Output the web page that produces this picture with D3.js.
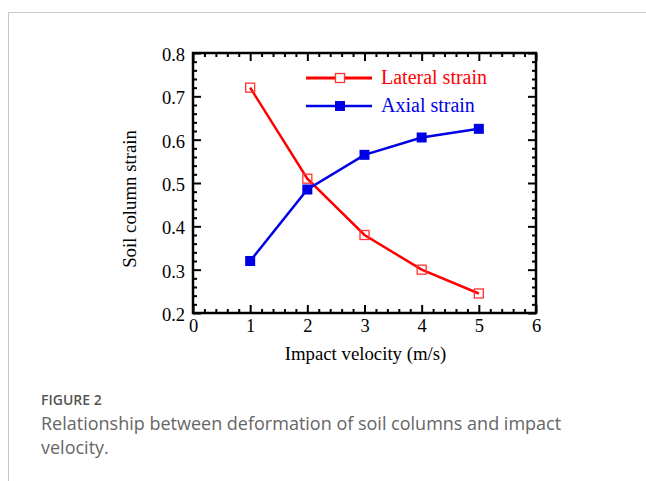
<!DOCTYPE html>
<html>
<head>
<meta charset="utf-8">
<script src="https://cdn.jsdelivr.net/npm/d3@7"></script>
<style>
  body { margin: 0; background: #fff; }
  svg { display: block; }
</style>
</head>
<body>
<svg id="chart" width="646" height="481"></svg>
<script>
// data
const velocity = [1, 2, 3, 4, 5];
const lateralStrain = [0.72, 0.51, 0.38, 0.30, 0.245];
const axialStrain = [0.32, 0.485, 0.565, 0.605, 0.625];
const xTicks = [0, 1, 2, 3, 4, 5, 6];
const yTicks = [0.2, 0.3, 0.4, 0.5, 0.6, 0.7, 0.8];

const svg = d3.select("#chart");
const serif = "'Liberation Serif', 'Times New Roman', serif";

// outer frame of the figure card
svg.append("line").attr("x1", 8.5).attr("x2", 646).attr("y1", 12.5).attr("y2", 12.5)
  .attr("stroke", "#c8c8c8").attr("stroke-width", 1);
svg.append("line").attr("x1", 8.5).attr("x2", 8.5).attr("y1", 12.5).attr("y2", 481)
  .attr("stroke", "#c8c8c8").attr("stroke-width", 1);

const m = { left: 193, right: 536, top: 53, bottom: 313 };
const x = d3.scaleLinear().domain([0, 6]).range([m.left, m.right]);
const y = d3.scaleLinear().domain([0.2, 0.8]).range([m.bottom, m.top]);

const g = svg.append("g");

// minor + major ticks, pointing inward on all four sides
const xMinor = d3.range(0, 6.0001, 0.2);
const yMinor = d3.range(0.2, 0.8001, 0.02);
const isMajorX = v => Math.abs(v - Math.round(v)) < 1e-6;
const isMajorY = v => Math.abs(v * 10 - Math.round(v * 10)) < 1e-6;

function tickAxis(axisFn, scale, values, isMajor, transform) {
  const ax = g.append("g").attr("transform", transform)
    .call(axisFn(scale).tickValues(values).tickSize(0).tickFormat(""));
  ax.select(".domain").remove();
  ax.selectAll(".tick line").each(function(d) {
    const len = isMajor(d) ? 8 : 4;
    const sel = d3.select(this).attr("stroke", "#000").attr("stroke-width", 2);
    if (axisFn === d3.axisBottom) sel.attr("y2", -len);
    if (axisFn === d3.axisTop) sel.attr("y2", len);
    if (axisFn === d3.axisLeft) sel.attr("x2", len);
    if (axisFn === d3.axisRight) sel.attr("x2", -len);
  });
  return ax;
}
tickAxis(d3.axisBottom, x, xMinor, isMajorX, `translate(0,${m.bottom})`);
tickAxis(d3.axisTop, x, xMinor, isMajorX, `translate(0,${m.top})`);
tickAxis(d3.axisLeft, y, yMinor, isMajorY, `translate(${m.left},0)`);
tickAxis(d3.axisRight, y, yMinor, isMajorY, `translate(${m.right},0)`);

// tick labels
const xLab = g.append("g").attr("transform", `translate(0,${m.bottom})`)
  .call(d3.axisBottom(x).tickValues(xTicks).tickSize(0).tickPadding(6).tickFormat(d3.format("d")));
xLab.select(".domain").remove();
xLab.selectAll("text").attr("font-family", serif).attr("font-size", 18.5).attr("fill", "#000");

const yLab = g.append("g").attr("transform", `translate(${m.left},0)`)
  .call(d3.axisLeft(y).tickValues(yTicks).tickSize(0).tickPadding(8).tickFormat(d3.format(".1f")));
yLab.select(".domain").remove();
yLab.selectAll("text").attr("font-family", serif).attr("font-size", 18.5).attr("fill", "#000")
  .attr("dy", "0.4em");

// plot frame
g.append("rect").attr("x", m.left).attr("y", m.top)
  .attr("width", m.right - m.left).attr("height", m.bottom - m.top)
  .attr("fill", "none").attr("stroke", "#000").attr("stroke-width", 2.5);

// axis titles
svg.append("text").attr("x", (m.left + m.right) / 2 + 1).attr("y", 360)
  .attr("text-anchor", "middle").attr("font-family", serif).attr("font-size", 18.8)
  .text("Impact velocity (m/s)");
svg.append("text").attr("transform", `translate(136,${(m.top + m.bottom) / 2 + 16}) rotate(-90)`)
  .attr("text-anchor", "middle").attr("font-family", serif).attr("font-size", 18.8)
  .text("Soil column strain");

// series
const lateral = velocity.map((v, i) => [v, lateralStrain[i]]);
const axial = velocity.map((v, i) => [v, axialStrain[i]]);

const line = d3.line().x(d => x(d[0])).y(d => y(d[1]));

g.append("path").datum(lateral).attr("d", line)
  .attr("fill", "none").attr("stroke", "#ff0000").attr("stroke-width", 2.5);
g.append("path").datum(axial).attr("d", line)
  .attr("fill", "none").attr("stroke", "#0000e6").attr("stroke-width", 2.5);

const ms = 9;
g.selectAll(".blue-pt").data(axial).join("rect").attr("class", "blue-pt")
  .attr("x", d => x(d[0]) - ms / 2 - 0.5).attr("y", d => y(d[1]) - ms / 2 - 0.5)
  .attr("width", ms + 1).attr("height", ms + 1).attr("fill", "#0000e6");
g.selectAll(".red-pt").data(lateral).join("rect").attr("class", "red-pt")
  .attr("x", d => x(d[0]) - ms / 2).attr("y", d => y(d[1]) - ms / 2)
  .attr("width", ms).attr("height", ms).attr("fill", "none")
  .attr("stroke", "#ff3333").attr("stroke-width", 1.3);

// legend
const legend = [
  { name: "Lateral strain", color: "#ff0000", open: true, yv: 78 },
  { name: "Axial strain", color: "#0000e6", open: false, yv: 106 }
];
legend.forEach(d => {
  const lg = svg.append("g");
  lg.append("line").attr("x1", 306).attr("x2", 372).attr("y1", d.yv).attr("y2", d.yv)
    .attr("stroke", d.color).attr("stroke-width", d.open ? 3 : 2.5);
  if (d.open) {
    lg.append("rect").attr("x", 340 - ms / 2).attr("y", d.yv - ms / 2).attr("width", ms).attr("height", ms)
      .attr("fill", "#fff").attr("stroke", "#ff3333").attr("stroke-width", 1.3);
  } else {
    lg.append("rect").attr("x", 340 - ms / 2 - 0.5).attr("y", d.yv - ms / 2 - 0.5)
      .attr("width", ms + 1).attr("height", ms + 1).attr("fill", d.color);
  }
  lg.append("text").attr("x", 381).attr("y", d.yv + 6).attr("font-family", serif)
    .attr("font-size", 20).attr("fill", d.color).text(d.name);
});

// caption
const sans = "'Open Sans', 'Noto Sans', sans-serif";
svg.append("text").attr("x", 41).attr("y", 405).attr("font-family", sans)
  .attr("font-size", 14).attr("font-weight", 600).attr("fill", "#555").text("FIGURE 2");
svg.append("text").attr("x", 41).attr("y", 430).attr("font-family", sans)
  .attr("font-size", 18).attr("fill", "#666")
  .text("Relationship between deformation of soil columns and impact");
svg.append("text").attr("x", 41).attr("y", 454).attr("font-family", sans)
  .attr("font-size", 18).attr("fill", "#666").text("velocity.");
</script>
</body>
</html>
